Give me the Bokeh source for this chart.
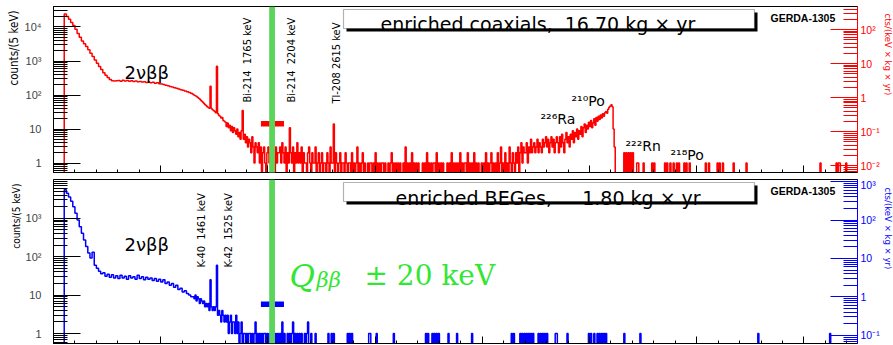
import math
from bokeh.plotting import figure
from bokeh.models import (Range1d, LogScale, LogAxis, FixedTicker,
                          CustomJSTickFormatter, CustomLabelingPolicy, Label,
                          BoxAnnotation, Title)
from bokeh.layouts import column
from bokeh.embed import file_html
from bokeh.resources import INLINE

# ------------------------------------------------------------------ data
E_RANGE = (0, 7500)            # keV
BIN_KEV = 5                    # counts per 5 keV
QBB = 2039                     # keV
ROI_WINDOW = (1935, 2150)      # keV

coax_exposure = 16.70          # kg x yr
bege_exposure = 1.80

# enriched coaxials: 100-1300 keV, 20 keV steps
coax_low_start, coax_low_step = 100, 20
coax_low = [24000, 20500, 17000, 13500, 11000, 8600, 6400, 5000, 3900, 3200,
            2650, 2150, 1700, 1350, 1080, 860, 690, 560, 450, 380,
            330, 285, 262, 258, 262,
            268, 255, 270, 258, 266, 254, 262, 249, 258, 244,
            252, 240, 247, 235, 242, 229, 236, 222, 228, 215,
            210, 204, 194, 188, 178, 172, 163, 158, 150, 144,
            138, 131, 124, 118, 112]
# 1300-2000 keV, 10 keV steps
coax_mid_start, coax_mid_step = 1300, 10
coax_mid = [104, 98, 95, 90, 86, 80, 77, 70, 66, 61,
            56, 52, 49, 45, 43, 41, 180, 40, 37, 35,
            33, 30, 700, 28, 25, 24, 21, 22, 18, 17,
            16, 12, 15, 11, 13, 9, 12, 8, 11, 9,
            7, 10, 6, 8, 5, 9, 35, 5, 7, 4,
            6, 3, 5, 4, 2, 6, 3, 1, 4, 3,
            2, 4, 1, 3, 0, 2, 3, 1, 0, 2]
# 2000-4600 keV, 10 keV steps
coax_flat_start, coax_flat_step = 2000, 10
coax_flat = [3, 1, 2, 4, 1, 2, 0, 3, 1, 2,
             2, 3, 1, 4, 2, 1, 3, 0, 2, 1,
             11, 2, 1, 3, 0, 2, 1, 4, 1, 2,
             1, 3, 0, 2, 1, 1, 0, 2, 3, 1,
             0, 2, 1, 1, 3, 0, 1, 2, 0, 1,
             2, 0, 1, 1, 0, 2, 1, 0, 3, 1,
             1, 14, 0, 2, 1, 0, 1, 2, 0, 1,
             1, 0, 2, 1, 0, 1, 1, 0, 2, 0,
             1, 0, 1, 3, 0, 1, 0, 1, 2, 0,
             1, 0, 0, 1, 0, 1, 1, 0, 1, 0,
             2, 0, 1, 0, 1, 0, 1, 1, 0, 1,
             0, 0, 1, 0, 1, 2, 0, 1, 0, 1,
             0, 1, 0, 1, 0, 0, 1, 0, 3, 0,
             1, 0, 1, 0, 2, 0, 1, 0, 1, 0,
             1, 0, 0, 0, 1, 0, 1, 0, 2, 0,
             1, 0, 1, 0, 1, 1, 0, 2, 0, 1,
             0, 1, 0, 1, 0, 0, 0, 1, 0, 1,
             0, 2, 0, 1, 0, 1, 0, 1, 0, 2,
             0, 1, 0, 1, 1, 0, 2, 0, 1, 0,
             1, 0, 2, 0, 1, 0, 1, 0, 0, 1,
             0, 1, 0, 2, 0, 1, 0, 1, 2, 0,
             1, 0, 1, 0, 2, 0, 1, 3, 0, 1,
             0, 2, 0, 1, 0, 3, 1, 0, 2, 1,
             0, 2, 1, 3, 0, 2, 4, 1, 3, 2,
             2, 4, 1, 3, 2, 5, 2, 3, 4, 2,
             3, 5, 2, 4, 3, 2, 5, 3, 4, 6]
# 4600-5250 keV (alpha region), 10 keV steps
coax_alpha_start, coax_alpha_step = 4600, 10
coax_alpha = [3, 5, 2, 4, 6, 3, 5, 2, 4, 6,
              4, 2, 6, 3, 7, 4, 2, 5, 8, 4,
              6, 3, 7, 5, 9, 4, 8, 6, 10, 5,
              9, 7, 12, 6, 11, 14, 8, 13, 10, 16,
              12, 18, 11, 15, 20, 13, 22, 17, 24, 19,
              26, 21, 28, 24, 30, 33, 29, 38, 44, 48,
              52, 45, 10, 3, 0]
# single events above 5250 keV: (energy keV, counts)
coax_events = [(5320, 2), (5340, 2), (5360, 2), (5380, 2), (5405, 2), (5440, 1),
               (5458, 1), (5505, 1), (5582, 1), (5603, 1), (5706, 1), (5727, 1),
               (5752, 1), (5783, 1), (5814, 1), (5839, 1), (5882, 1), (5907, 1),
               (5938, 1), (6088, 1), (6110, 1), (6194, 1), (6219, 1), (6244, 1),
               (6349, 1), (6461, 1), (7158, 1), (7307, 1), (7320, 1), (7332, 1),
               (7395, 1)]
coax_roi_level = 14.4

# enriched BEGes
bege_low_start, bege_low_step = 100, 20
bege_low = [5500, 4500, 3600, 2750, 2000, 1350, 900, 600, 410, 270,
            185, 125, 92, 130, 60, 50, 42, 36, 38, 31,
            35, 29, 34, 28, 32,
            27, 33, 28, 31, 26, 32, 28, 30, 26, 33,
            27, 30, 25, 29, 26, 28, 24, 27, 23, 26,
            22, 25, 20, 22, 18, 20, 16, 18, 14, 15,
            12, 13, 11, 10, 9]
bege_mid_start, bege_mid_step = 1300, 10
bege_mid = [9, 8, 10, 7, 9, 8, 6, 8, 7, 6,
            7, 5, 6, 5, 6, 4, 25, 5, 4, 5,
            4, 5, 60, 3, 4, 3, 2, 4, 3, 2,
            3, 2, 3, 1, 2, 3, 1, 2, 2, 1]
bege_tail_start, bege_tail_step = 1700, 10
bege_tail = [3, 1, 2, 0, 1, 2, 0, 1, 1, 0,
             1, 0, 1, 1, 0, 1, 0, 1, 2, 0,
             1, 0, 1, 0, 1, 0, 1, 1, 0, 1,
             0, 1, 0, 1, 0, 1, 0, 1, 0, 1,
             0, 1, 0, 2, 0, 1, 0, 0, 1, 0,
             1, 0, 1, 2, 0, 1, 0, 1, 0, 1,
             0, 1, 0, 0, 1, 0, 1, 2, 0, 0,
             1, 0, 0, 0, 1, 0, 0, 0, 0, 0]
bege_events = [(2568, 1), (2590, 1), (2615, 1), (2740, 1), (2760, 1), (2786, 1),
               (2942, 1), (2955, 1), (3019, 1), (3175, 1), (3470, 1), (3490, 1),
               (3532, 1), (3555, 1), (3579, 1), (3595, 1), (3688, 1), (3765, 1),
               (3905, 1), (4278, 1), (4294, 1), (4356, 1), (4372, 1), (4392, 1),
               (4412, 1), (4432, 1), (4455, 1), (4478, 1), (4527, 1), (4547, 1),
               (4567, 1), (4587, 1), (4605, 1), (4683, 1), (4698, 1), (4792, 1),
               (4994, 1), (5015, 1), (5040, 1), (5072, 1), (5095, 1), (5115, 1),
               (5135, 1), (5155, 1), (5320, 1), (5476, 1), (6570, 1), (7248, 1)]
bege_roi_level = 5.8

x_major_ticks = [0, 1000, 2000, 3000, 4000, 5000, 6000, 7000]
x_minor_ticks = [e for e in range(200, 7500, 200)]

# ------------------------------------------------------------------ layout constants
FRAME_L, FRAME_R = 53, 857
TOP_T, TOP_B = 6, 172
BOT_T, BOT_B = 179, 343
TOP_YR = (0.53, 40000.0)
BOT_YR = (0.55, 10200.0)
RED, BLUE, BLACK = "#ff0000", "#0000ff", "black"
BAND_GREEN = "#5ad45a"
TEXT_GREEN = "#33e633"
SANS = "DejaVu Sans"
NARROW = "Liberation Sans Narrow, DejaVu Sans Condensed, Liberation Sans"
TICKF = "Liberation Sans"
FLOOR = 0.05


def ex(px):
    return E_RANGE[0] + (px - FRAME_L) / (FRAME_R - FRAME_L) * (E_RANGE[1] - E_RANGE[0])


def ey(py, top, bot, yr):
    lo, hi = math.log10(yr[0]), math.log10(yr[1])
    f = (bot - py) / (bot - top)
    return 10 ** (lo + f * (hi - lo))


def ty(py):
    return ey(py, TOP_T, TOP_B, TOP_YR)


def by(py):
    return ey(py, BOT_T, BOT_B, BOT_YR)


def build_hist(segments, events, step=10):
    edges, vals = [], []
    for start, st, values in segments:
        for i, v in enumerate(values):
            edges.append(start + i * st)
            vals.append(v)
    s0, st0, v0 = segments[-1]
    cur = s0 + st0 * len(v0)
    n = int((E_RANGE[1] - cur) // step)
    ev = [0] * n
    for e, c in events:
        k = int((e - cur) // step)
        if 0 <= k < n:
            ev[k] += c
    for i in range(n):
        edges.append(cur + i * step)
        vals.append(ev[i])
    edges.append(cur + n * step)
    return edges, vals


def outline(edges, vals):
    xs, ys = [edges[0]], [FLOOR]
    for i, v in enumerate(vals):
        y = v if v > 0 else FLOOR
        xs += [edges[i], edges[i + 1]]
        ys += [y, y]
    xs.append(edges[-1])
    ys.append(FLOOR)
    return xs, ys


SUP_JS = """
const sup = {"-":"\u207b","0":"\u2070","1":"\u00b9","2":"\u00b2","3":"\u00b3","4":"\u2074",
             "5":"\u2075","6":"\u2076","7":"\u2077","8":"\u2078","9":"\u2079"};
const e = Math.round(Math.log10(tick));
if (e == 0) return "1";
if (e == 1) return "10";
return "10" + String(e).split("").map(c => sup[c]).join("");
"""

HIDE_ALL = """
const ids = Array.from(indices);
for (const i of ids) { indices.unset(i); }
return indices;
"""


def make_panel(yr, frame_h, border_t, border_b, color, factor, left_ticks, right_ticks,
               left_title_off, left_title_size, right_title_off):
    p = figure(frame_width=FRAME_R - FRAME_L, frame_height=frame_h,
               x_range=Range1d(*E_RANGE), y_range=Range1d(*yr),
               y_axis_type="log", output_backend="svg", toolbar_location=None,
               min_border_left=FRAME_L, min_border_right=893 - FRAME_R,
               min_border_top=border_t, min_border_bottom=border_b)
    p.xgrid.visible = False
    p.ygrid.visible = False
    p.outline_line_color = BLACK
    p.background_fill_color = "white"
    p.border_fill_color = "white"

    xa = p.xaxis[0]
    xa.ticker = FixedTicker(ticks=x_major_ticks, minor_ticks=x_minor_ticks)
    xa.major_tick_in, xa.major_tick_out = 7, 0
    xa.minor_tick_in, xa.minor_tick_out = 3, 0
    xa.formatter = CustomJSTickFormatter(code="return '';")
    xa.major_label_policy = CustomLabelingPolicy(code=HIDE_ALL)
    xa.major_label_text_font_size = "1px"
    xa.major_label_standoff = 0
    xa.axis_line_color = BLACK

    minors = [m * 10 ** k for k in range(-3, 5) for m in range(2, 10)]
    ya = p.yaxis[0]
    ya.ticker = FixedTicker(ticks=left_ticks, minor_ticks=minors)
    ya.formatter = CustomJSTickFormatter(code=SUP_JS)
    ya.major_tick_in, ya.major_tick_out = 27, 0
    ya.minor_tick_in, ya.minor_tick_out = 14, 0
    ya.major_label_standoff = 12
    ya.major_label_text_font = TICKF
    ya.major_label_text_font_size = "11px"
    ya.axis_line_color = BLACK
    p.add_layout(Title(text="counts/(5 keV)", align="right", offset=left_title_off,
                       standoff=1, text_font=NARROW, text_font_size=left_title_size,
                       text_font_style="normal", text_color=BLACK), "left")

    p.extra_y_ranges = {"r": Range1d(yr[0] * factor, yr[1] * factor)}
    p.extra_y_scales = {"r": LogScale()}
    ra = LogAxis(y_range_name="r",
                 ticker=FixedTicker(ticks=right_ticks, minor_ticks=minors),
                 formatter=CustomJSTickFormatter(code=SUP_JS))
    ra.major_tick_in, ra.major_tick_out = 27, 0
    ra.minor_tick_in, ra.minor_tick_out = 14, 0
    ra.major_label_standoff = 3
    ra.major_label_text_font = TICKF
    ra.major_label_text_font_size = "10.5px"
    for attr in ("axis_line_color", "major_tick_line_color",
                 "minor_tick_line_color", "major_label_text_color"):
        setattr(ra, attr, color)
    p.add_layout(ra, "right")
    p.add_layout(Title(text="cts/(keV \u00d7 kg \u00d7 yr)", align="left",
                       offset=right_title_off, standoff=0, text_font=NARROW,
                       text_font_size="9.5px", text_font_style="normal",
                       text_color=color), "right")
    return p


def add_text(p, x, y, text, size, color=BLACK, font=SANS, style="normal",
             angle=0.0, align="left", baseline="alphabetic"):
    p.add_layout(Label(x=x, y=y, text=text, text_font=font, text_font_size=size,
                       text_color=color, text_font_style=style, angle=angle,
                       text_align=align, text_baseline=baseline))


def add_box(p, yf, l, t, r, b, text, tx, tbase):
    p.add_layout(BoxAnnotation(left=ex(l + 3), right=ex(r + 3), top=yf(t + 3),
                               bottom=yf(b + 3), fill_color="black", fill_alpha=1,
                               line_alpha=0))
    p.add_layout(BoxAnnotation(left=ex(l), right=ex(r), top=yf(t), bottom=yf(b),
                               fill_color="white", fill_alpha=1, line_color="black",
                               line_width=1.2))
    add_text(p, ex(tx), yf(tbase), text, "19px")


rot = math.pi / 2

# ------------------------------------------------------------------ top panel
f_coax = 1.0 / (BIN_KEV * coax_exposure)
top = make_panel(TOP_YR, TOP_B - TOP_T, TOP_T, 6, RED, f_coax,
                 [1, 10, 100, 1000, 10000], [0.01, 0.1, 1, 10, 100], 4, "11.5px", 7)
edges, vals = build_hist([(coax_low_start, coax_low_step, coax_low),
                          (coax_mid_start, coax_mid_step, coax_mid),
                          (coax_flat_start, coax_flat_step, coax_flat),
                          (coax_alpha_start, coax_alpha_step, coax_alpha)],
                         coax_events)
xs, ys = outline(edges, vals)
top.line(xs, ys, line_color=RED, line_width=1.5)
top.segment(x0=[ROI_WINDOW[0]], x1=[ROI_WINDOW[1]], y0=[coax_roi_level],
            y1=[coax_roi_level], line_color=RED, line_width=5.5)
top.add_layout(BoxAnnotation(left=QBB - 27, right=QBB + 27, bottom=ty(179.5),
                             fill_color=BAND_GREEN, fill_alpha=1, line_alpha=0))

add_text(top, ex(124), ty(71.5), "2\u03bd\u03b2\u03b2", "18px")
add_text(top, ex(247), ty(102), "Bi-214\u00a0 1765 keV", "11px", font=NARROW,
         angle=rot, baseline="middle")
add_text(top, ex(291), ty(102), "Bi-214\u00a0 2204 keV", "11px", font=NARROW,
         angle=rot, baseline="middle")
add_text(top, ex(336), ty(103), "Tl-208 2615 keV", "11px", font=NARROW,
         angle=rot, baseline="middle")
add_text(top, ex(540), ty(118), "\u00b2\u00b2\u2076Ra", "14px")
add_text(top, ex(571), ty(100), "\u00b2\u00b9\u2070Po", "14px")
add_text(top, ex(625), ty(145), "\u00b2\u00b2\u00b2Rn", "14px")
add_text(top, ex(670), ty(154), "\u00b2\u00b9\u2078Po", "14px")
add_box(top, ty, 343, 9, 754, 28, "enriched coaxials,\u00a0 16.70 kg \u00d7 yr", 380, 23.5)
add_text(top, ex(770), ty(17.5), "GERDA-1305", "10.5px", font=TICKF, style="bold")

# ------------------------------------------------------------------ bottom panel
f_bege = 1.0 / (BIN_KEV * bege_exposure)
bot = make_panel(BOT_YR, BOT_B - BOT_T, BOT_T - 178, 1, BLUE, f_bege,
                 [1, 10, 100, 1000], [0.1, 1, 10, 100, 1000], 4, "10px", 8)
edges, vals = build_hist([(bege_low_start, bege_low_step, bege_low),
                          (bege_mid_start, bege_mid_step, bege_mid),
                          (bege_tail_start, bege_tail_step, bege_tail)],
                         bege_events)
xs, ys = outline(edges, vals)
bot.line(xs, ys, line_color=BLUE, line_width=1.5)
bot.segment(x0=[ROI_WINDOW[0]], x1=[ROI_WINDOW[1]], y0=[bege_roi_level],
            y1=[bege_roi_level], line_color=BLUE, line_width=5.5)
bot.add_layout(BoxAnnotation(left=QBB - 27, right=QBB + 27,
                             fill_color=BAND_GREEN, fill_alpha=1, line_alpha=0))

add_text(bot, ex(124), by(244), "2\u03bd\u03b2\u03b2", "18px")
add_text(bot, ex(201), by(267), "K-40\u00a0 1461 keV", "11px", font=NARROW,
         angle=rot, baseline="middle")
add_text(bot, ex(228), by(267), "K-42\u00a0 1525 keV", "11px", font=NARROW,
         angle=rot, baseline="middle")
add_box(bot, by, 343, 182, 754, 201,
        "enriched BEGes,\u00a0\u00a0\u00a0\u00a0 1.80 kg \u00d7 yr", 395, 197)
add_text(bot, ex(770), by(190), "GERDA-1305", "10.5px", font=TICKF, style="bold")
add_text(bot, ex(289), by(275), "Q", "31px", color=TEXT_GREEN, font="DejaVu Serif",
         style="italic")
add_text(bot, ex(316), by(279), "\u03b2\u03b2", "21px", color=TEXT_GREEN,
         font="DejaVu Serif", style="italic")
add_text(bot, ex(364), by(275), "\u00b1 20 keV", "28px", color=TEXT_GREEN,
         font="DejaVu Serif")

layout = column(top, bot, spacing=0)
open("out.html", "w").write(file_html(layout, INLINE))
